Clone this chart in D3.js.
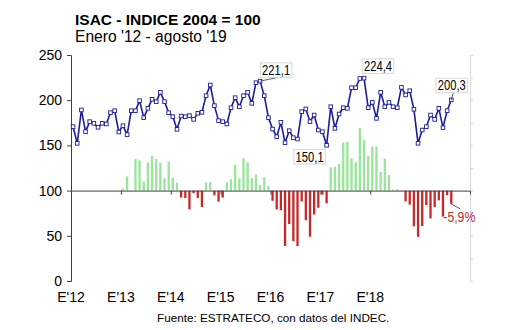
<!DOCTYPE html>
<html>
<head>
<meta charset="utf-8">
<script src="https://cdn.jsdelivr.net/npm/d3@7"></script>
<style>
  html, body { margin: 0; padding: 0; background: #fff; }
  svg { display: block; font-family: "Liberation Sans", Arial, sans-serif; }
</style>
</head>
<body>
<svg id="chart" width="530" height="330"></svg>
<script>
// ---------- DATA ----------
const title = "ISAC - INDICE 2004 = 100";
const subtitle = "Enero '12 - agosto '19";
const source = "Fuente: ESTRATECO, con datos del INDEC.";

// monthly categories on the axis: Jan 2012 .. Dec 2019
const axisStart = new Date(2012, 0, 1);
const axisEnd = new Date(2020, 0, 1);
const yearLabels = ["E'12", "E'13", "E'14", "E'15", "E'16", "E'17", "E'18"];

// ISAC index, Jan 2012 .. Aug 2019
const isac = [
  170.7, 152.3, 189.2, 165.2, 176.3, 174.4, 170.0, 174.4, 173.7, 186.2, 188.4, 164.8,
  171.8, 161.9, 188.4, 188.4, 199.5, 180.7, 191.0, 201.0, 198.4, 208.7, 198.4, 186.2,
  181.8, 167.8, 182.5, 181.8, 183.0, 178.8, 185.5, 186.6, 205.0, 216.8, 194.0, 177.4,
  176.3, 173.7, 191.7, 202.8, 192.8, 205.0, 208.7, 196.5, 219.4, 221.1, 205.0, 180.7,
  168.1, 159.6, 175.5, 153.0, 166.3, 158.5, 157.0, 187.3, 190.3, 176.3, 183.6, 167.0,
  165.2, 150.1, 192.8, 168.9, 184.7, 191.7, 191.0, 213.8, 213.8, 224.0, 224.4, 191.7,
  197.6, 179.9, 208.7, 192.8, 197.6, 192.8, 191.7, 214.2, 205.8, 210.5, 189.9, 152.3,
  167.0, 170.7, 183.6, 178.8, 191.0, 169.6, 188.4, 200.3
];

// year-on-year change (%), Jan 2013 .. Aug 2019
const variacion = [
    0.9,   6.3,   0.2,  14.0,  13.4,   4.0,  12.4,  15.4,  14.0,  12.4,   5.5,  12.9,
    5.6,   3.5,  -3.1,  -3.3,  -8.3,  -1.1,  -3.3,  -7.3,   3.6,   3.8,  -2.1,  -4.9,
   -3.1,   3.6,   5.1,  11.4,   5.4,  14.3,  12.5,   5.5,   7.1,   2.4,   6.0,   2.0,
   -4.5,  -8.3,  -8.7, -24.5, -14.8, -22.4, -24.6,  -4.8, -13.1, -20.4, -10.6,  -7.6,
   -1.8,  -5.6,  10.3,  10.5,  11.8,  21.3,  21.5,  14.3,  12.5,  27.6,  22.3,  15.2,
   19.5,  19.5,   8.3,  14.2,   6.9,   0.4,   0.7,   0.2,  -4.8,  -6.2, -15.8, -20.5,
  -15.7,  -6.4, -12.3,  -7.3,  -4.3, -11.5,  -2.0,  -5.9
];
const variacionOffset = 12; // first change value belongs to Jan 2013

// annotated points (index into isac)
const callouts = [
  { i: 45, text: "221,1" },
  { i: 61, text: "150,1" },
  { i: 70, text: "224,4" },
  { i: 91, text: "200,3" }
];
const lastChangeLabel = "-5,9%";

// ---------- LAYOUT ----------
const svg = d3.select("#chart");
const plot = { left: 71, right: 470, top: 55, bottom: 281 };
const months = d3.timeMonth.range(axisStart, axisEnd);

const x = d3.scaleLinear().domain([0, months.length]).range([plot.left, plot.right]);
const yL = d3.scaleLinear().domain([0, 250]).range([plot.bottom, plot.top]);
const yR = d3.scaleLinear().domain([-40, 60]).range([plot.bottom, plot.top]);
const cx = i => x(i + 0.5);

const C = {
  axis: "#404040",
  axis2: "#d8d8d8",
  line: "#1c1c9c",
  green: "#99e59a",
  red: "#c42a2a",
  text: "#000"
};

// ---------- TITLES ----------
svg.append("text").attr("x", 75).attr("y", 25)
  .attr("font-size", 15.5).attr("font-weight", "bold").attr("fill", C.text)
  .text(title);
svg.append("text").attr("x", 75).attr("y", 42)
  .attr("font-size", 15.6).attr("fill", C.text)
  .text(subtitle);

// ---------- RIGHT (light) AXIS ----------
const rAxis = svg.append("g").attr("transform", `translate(${plot.right},0)`)
  .call(d3.axisRight(yR).tickValues(d3.range(-40, 61, 10)).tickSize(3).tickFormat(""));
rAxis.select(".domain").attr("stroke", C.axis2);
rAxis.selectAll(".tick line").attr("stroke", C.axis2);

// ---------- BARS ----------
const barW = 2.3;
svg.append("g").selectAll("rect")
  .data(variacion.map((v, k) => ({ i: k + variacionOffset, v })))
  .join("rect")
  .attr("x", d => cx(d.i) - barW / 2)
  .attr("width", barW)
  .attr("y", d => Math.min(yR(d.v), yR(0)))
  .attr("height", d => Math.abs(yR(d.v) - yR(0)))
  .attr("fill", d => d.v >= 0 ? C.green : C.red);

// ---------- LEFT AXIS ----------
const lAxis = svg.append("g").attr("transform", `translate(${plot.left},0)`)
  .call(d3.axisLeft(yL).tickValues(d3.range(0, 251, 50)).tickSize(4).tickPadding(5));
lAxis.select(".domain").attr("stroke", C.axis);
lAxis.selectAll(".tick line").attr("stroke", C.axis);
lAxis.selectAll(".tick text").attr("font-size", 14).attr("fill", C.text)
  .attr("font-family", "Liberation Sans, Arial, sans-serif");

// ---------- X AXIS (at index 100) ----------
const yearIdx = yearLabels.map((_, k) => k * 12);
const xAxis = svg.append("g").attr("transform", `translate(0,${yL(100)})`)
  .call(d3.axisBottom(x).tickValues(yearIdx).tickSize(4).tickFormat(""));
xAxis.select(".domain").attr("stroke", C.axis);
xAxis.selectAll(".tick line").attr("stroke", C.axis);

svg.append("g").selectAll("text")
  .data(yearLabels)
  .join("text")
  .attr("x", (d, k) => x(yearIdx[k]))
  .attr("y", 302)
  .attr("text-anchor", "middle")
  .attr("font-size", 14)
  .attr("fill", C.text)
  .text(d => d);

// ---------- LINE ----------
const line = d3.line().x((d, i) => cx(i)).y(d => yL(d));
svg.append("path").datum(isac)
  .attr("d", line)
  .attr("fill", "none")
  .attr("stroke", C.line)
  .attr("stroke-width", 1.6)
  .attr("stroke-linejoin", "round");

const m = 3.6;
svg.append("g").selectAll("rect")
  .data(isac)
  .join("rect")
  .attr("x", (d, i) => cx(i) - m / 2)
  .attr("y", d => yL(d) - m / 2)
  .attr("width", m).attr("height", m)
  .attr("fill", "#fff")
  .attr("stroke", C.line)
  .attr("stroke-width", 0.9);

// ---------- CALLOUTS ----------
const calloutStyle = {
  45: { dx: 16, dy: -11, leader: true },
  61: { dx: -17, dy: 11.5, leader: false },
  70: { dx: 14, dy: -12, leader: false },
  91: { dx: 0.5, dy: -14.5, leader: true }
};
const bw = 31.5, bh = 14.5;
callouts.forEach(c => {
  const px = cx(c.i), py = yL(isac[c.i]);
  const s = calloutStyle[c.i];
  const bx = px + s.dx, by = py + s.dy;
  if (s.leader) {
    svg.append("line")
      .attr("x1", px).attr("y1", py)
      .attr("x2", bx + (c.i === 45 ? 2 : 1.5)).attr("y2", by + bh / 2)
      .attr("stroke", "#333").attr("stroke-width", 0.8);
  }
  svg.append("rect")
    .attr("x", bx - bw / 2).attr("y", by - bh / 2)
    .attr("width", bw).attr("height", bh)
    .attr("fill", "#fff").attr("stroke", "#d8d8d8").attr("stroke-width", 1);
  svg.append("text")
    .attr("x", bx).attr("y", by + 5)
    .attr("text-anchor", "middle")
    .attr("font-size", 14)
    .attr("textLength", 28).attr("lengthAdjust", "spacingAndGlyphs")
    .attr("fill", C.text)
    .text(c.text);
});

// last change label
{
  const li = variacionOffset + variacion.length - 1;
  const px = cx(li), py = yR(variacion[variacion.length - 1]);
  svg.append("line")
    .attr("x1", px).attr("y1", py)
    .attr("x2", px + 9).attr("y2", py + 5)
    .attr("stroke", "#333").attr("stroke-width", 0.8);
  svg.append("text")
    .attr("x", px - 8).attr("y", py + 18)
    .attr("font-size", 14)
    .attr("textLength", 32).attr("lengthAdjust", "spacingAndGlyphs")
    .attr("fill", C.red)
    .text(lastChangeLabel);
}

// ---------- SOURCE ----------
svg.append("text").attr("x", 157).attr("y", 322)
  .attr("font-size", 11.7).attr("fill", C.text)
  .text(source);
</script>
</body>
</html>
